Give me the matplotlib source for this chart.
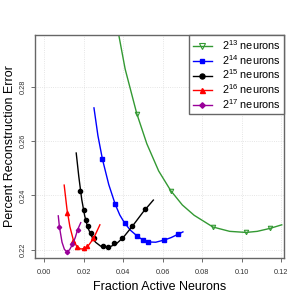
import matplotlib
matplotlib.use("Agg")
import matplotlib.pyplot as plt

plt.rcParams['font.family'] = ['Liberation Sans', 'DejaVu Sans']
plt.rcParams['mathtext.fontset'] = 'custom'
plt.rcParams['mathtext.rm'] = 'Liberation Sans'

# markers (data points)
x13 = [0.0469, 0.0641, 0.0855, 0.1023, 0.1145]
y13 = [0.2701, 0.2418, 0.2284, 0.2264, 0.2279]
x14 = [0.0295, 0.0360, 0.0407, 0.0469, 0.0502, 0.0528, 0.0608, 0.0677]
y14 = [0.2533, 0.2367, 0.2299, 0.2252, 0.2235, 0.2229, 0.2236, 0.2257]
x15 = [0.0183, 0.0200, 0.0210, 0.0224, 0.0238, 0.0254, 0.0297, 0.0323, 0.0355, 0.0394, 0.0444, 0.0511]
y15 = [0.2417, 0.2346, 0.2310, 0.2288, 0.2261, 0.2242, 0.2215, 0.2210, 0.2226, 0.2243, 0.2289, 0.2350]
x16 = [0.0115, 0.0146, 0.0168, 0.0199, 0.0218, 0.0249]
y16 = [0.2335, 0.2232, 0.2209, 0.2205, 0.2214, 0.2243]
x17 = [0.0077, 0.0114, 0.0143, 0.0169]
y17 = [0.2284, 0.2193, 0.2220, 0.2274]

# fitted curves, read as points along each line
cx13 = [0.0370, 0.0410, 0.0469, 0.0520, 0.0580, 0.0641, 0.0700, 0.0760, 0.0855, 0.0940, 0.1023,
        0.1080, 0.1145, 0.1204]
cy13 = [0.3020, 0.2865, 0.2701, 0.2590, 0.2490, 0.2418, 0.2365, 0.2327, 0.2284, 0.2268, 0.2264,
        0.2268, 0.2279, 0.2292]
cx14 = [0.0252, 0.0272, 0.0295, 0.0327, 0.0360, 0.0383, 0.0407, 0.0437, 0.0469, 0.0502, 0.0528,
        0.0565, 0.0608, 0.0643, 0.0677, 0.0703]
cy14 = [0.2722, 0.2620, 0.2533, 0.2440, 0.2367, 0.2328, 0.2299, 0.2272, 0.2252, 0.2235, 0.2229,
        0.2228, 0.2236, 0.2245, 0.2257, 0.2266]
cx15 = [0.0162, 0.0175, 0.0190, 0.0205, 0.0220, 0.0240, 0.0260, 0.0285, 0.0310, 0.0335, 0.0365,
        0.0400, 0.0450, 0.0500, 0.0553]
cy15 = [0.2556, 0.2470, 0.2385, 0.2325, 0.2283, 0.2250, 0.2228, 0.2214, 0.2209, 0.2212, 0.2222,
        0.2245, 0.2290, 0.2338, 0.2383]
cx16 = [0.0101, 0.0115, 0.0130, 0.0146, 0.0165, 0.0185, 0.0205, 0.0225, 0.0250, 0.0282]
cy16 = [0.2438, 0.2350, 0.2285, 0.2240, 0.2212, 0.2203, 0.2205, 0.2217, 0.2242, 0.2292]
cx17 = [0.0071, 0.0077, 0.0090, 0.0102, 0.0114, 0.0128, 0.0143, 0.0157, 0.0169, 0.0185]
cy17 = [0.2325, 0.2284, 0.2228, 0.2202, 0.2193, 0.2200, 0.2220, 0.2245, 0.2274, 0.2300]

labels = [r"$\mathregular{2^{13}}$ neurons", r"$\mathregular{2^{14}}$ neurons",
          r"$\mathregular{2^{15}}$ neurons", r"$\mathregular{2^{16}}$ neurons",
          r"$\mathregular{2^{17}}$ neurons"]
xticks = [0.00, 0.02, 0.04, 0.06, 0.08, 0.10, 0.12]
yticks = [0.22, 0.24, 0.26, 0.28]

fig = plt.figure(figsize=(3.03, 3.03), dpi=100)
ax = fig.add_axes([0.1155, 0.1485, 0.8215, 0.736])

series = [
    (cx13, cy13, x13, y13, '#339933', 'v', 3.2, dict(markerfacecolor='none', mew=0.8)),
    (cx14, cy14, x14, y14, '#0000ff', 's', 2.6, {}),
    (cx15, cy15, x15, y15, '#000000', 'o', 3.0, {}),
    (cx16, cy16, x16, y16, '#ff0000', '^', 3.0, {}),
    (cx17, cy17, x17, y17, '#990099', 'D', 2.2, {}),
]
handles = []
for (cx, cy, mx, my, col, mk, ms, extra), lab in zip(series, labels):
    ax.plot(cx, cy, color=col, lw=1)
    ax.plot(mx, my, linestyle='none', marker=mk, color=col, ms=ms, **extra)
    h, = ax.plot([], [], color=col, lw=1, marker=mk, ms=ms + 0.6, **extra)
    handles.append(h)

ax.set_xlim(-0.0047, 0.1215)
ax.set_ylim(0.217, 0.299)
ax.set_xticks(xticks)
ax.set_xticklabels(["%.2f" % v for v in xticks])
ax.set_yticks(yticks)
ax.set_yticklabels(["%.2f" % v for v in yticks], rotation=90, va='center')
ax.tick_params(direction='out', length=3, width=0.6, color='#555555',
               labelsize=5.3, labelcolor='#333333')
ax.tick_params(axis='x', pad=5)
ax.tick_params(axis='y', pad=3)
ax.grid(True, color='#dddddd', linestyle=':', lw=0.6)
ax.set_axisbelow(True)
for s in ax.spines.values():
    s.set_color('#666666')
    s.set_linewidth(1)

ax.set_xlabel("Fraction Active Neurons", fontsize=9)
ax.set_ylabel("Percent Reconstruction Error", fontsize=9)
ax.xaxis.set_label_coords(0.5, -0.105)
ax.yaxis.set_label_coords(-0.078, 0.5)

leg = ax.legend(handles, labels, loc='upper right', bbox_to_anchor=(1, 1),
                borderaxespad=0, fontsize=7.8, handlelength=1.8, handletextpad=0.9,
                labelspacing=0.08, borderpad=0.3, fancybox=False, framealpha=1)
leg.get_frame().set_edgecolor('#666666')
leg.get_frame().set_linewidth(1)

fig.savefig("out.png", dpi=100)
